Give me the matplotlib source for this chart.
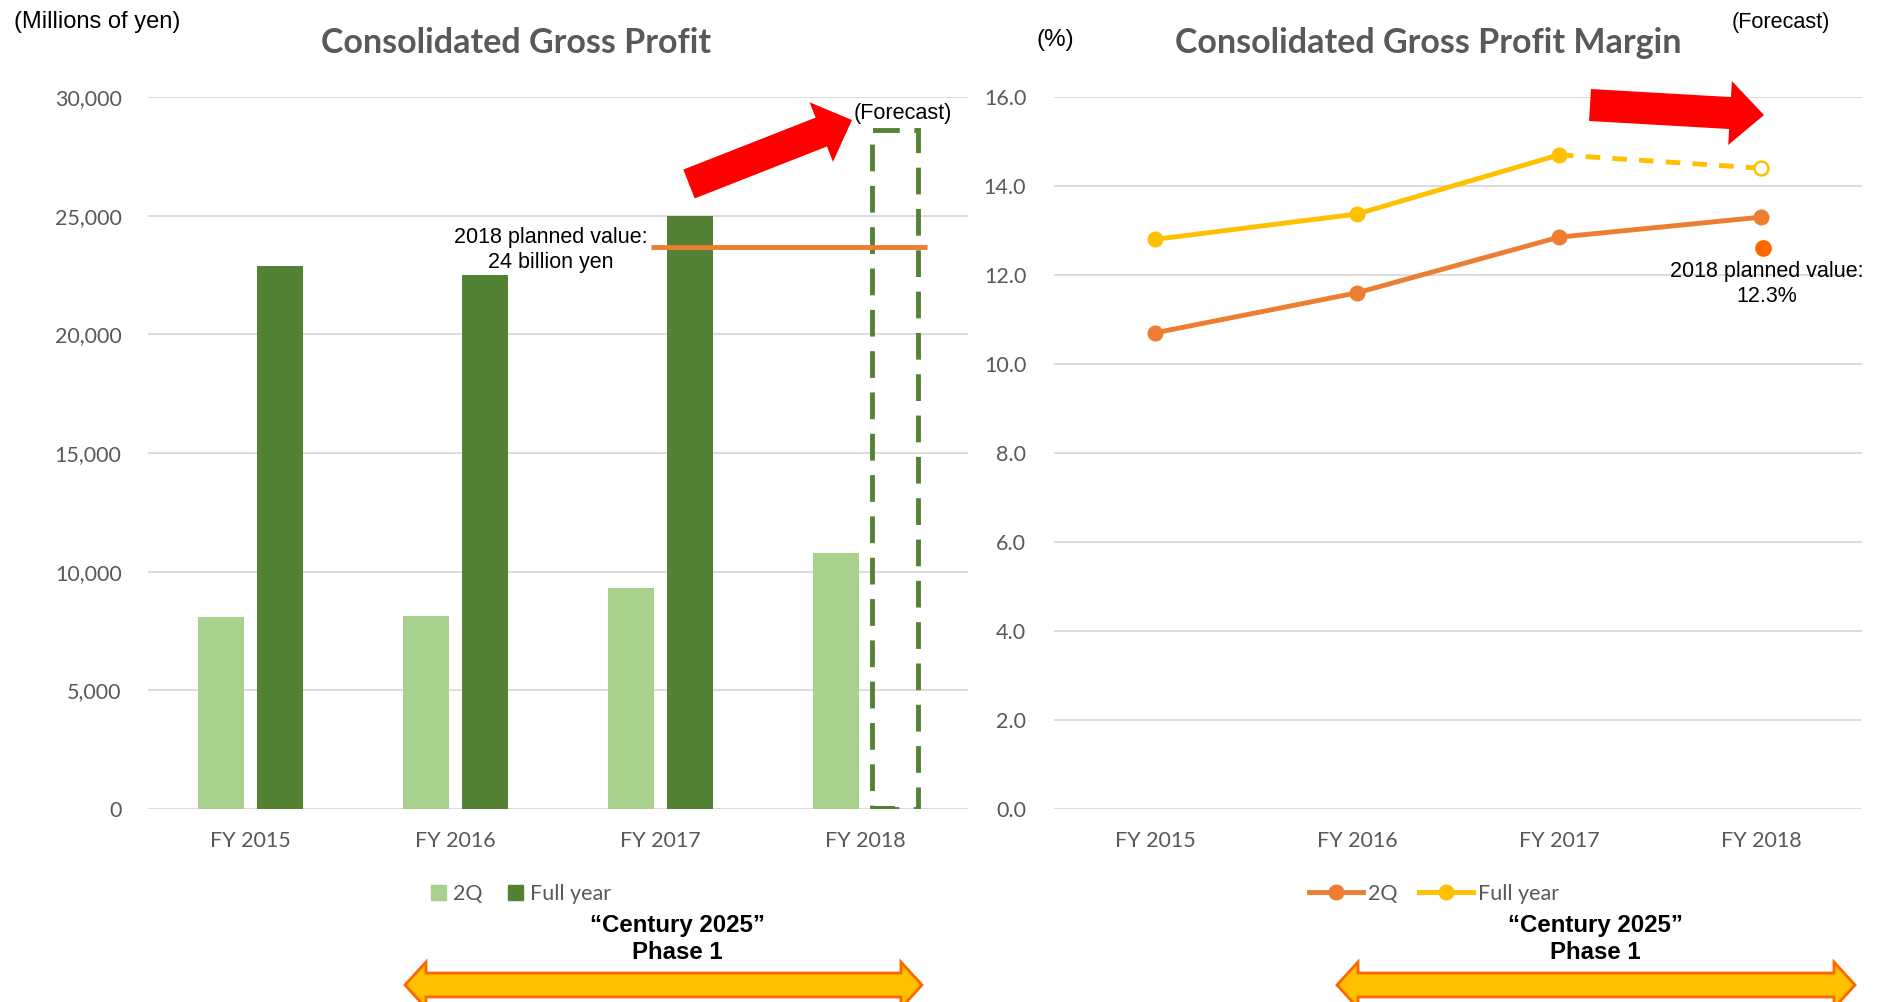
import numpy as np
import matplotlib
matplotlib.use("Agg")
import matplotlib.pyplot as plt
from matplotlib.patches import FancyArrow, Polygon, Rectangle
from matplotlib.lines import Line2D

# data
years = ["FY 2015", "FY 2016", "FY 2017", "FY 2018"]
profit_2q = [8100, 8150, 9300, 10780]
profit_full = [22900, 22500, 25000, 120]
profit_full_forecast = 28600
profit_planned = 23700

margin_2q = [10.7, 11.6, 12.85, 13.3]
margin_full = [12.8, 13.37, 14.7, 14.4]   # last one is the forecast
margin_planned = 12.6

yticks_left = [0, 5000, 10000, 15000, 20000, 25000, 30000]
yticks_right = [0, 2, 4, 6, 8, 10, 12, 14, 16]

GRAY_TXT = "#595959"
GRID = "#D9D9D9"
LIGHT_G = "#A9D18E"
DARK_G = "#548235"
ORANGE = "#ED7D31"
YELLOW = "#FFC000"
UI_FONT = ["Lato", "DejaVu Sans"]
ARIAL = ["Liberation Sans", "DejaVu Sans"]

W, H = 1878, 1002
fig = plt.figure(figsize=(W / 100, H / 100), dpi=100)


def px_rect(x0, y0, x1, y1):
    return [x0 / W, 1 - y1 / H, (x1 - x0) / W, (y1 - y0) / H]


def style_axes(ax, ticks, fmt, pad_y):
    for s in ax.spines.values():
        s.set_visible(False)
    ax.set_yticks(ticks)
    ax.set_yticklabels([fmt(t) for t in ticks], fontfamily=UI_FONT, fontsize=15.5, color=GRAY_TXT)
    ax.set_xticks(range(len(years)))
    ax.set_xticklabels(years, fontfamily=UI_FONT, fontsize=15.5, color=GRAY_TXT)
    ax.tick_params(axis="y", length=0, pad=pad_y)
    ax.tick_params(axis="x", length=0, pad=16)
    ax.grid(axis="y", color=GRID, lw=1.3)
    ax.set_axisbelow(True)
    ax.set_xlim(-0.5, 3.5)


# ---- left: gross profit bars
ax1 = fig.add_axes(px_rect(148, 97, 968, 809))
x = np.arange(len(years))
bw = 0.222
ax1.bar(x - 0.143, profit_2q, width=bw, color=LIGHT_G, zorder=2)
ax1.bar(x[:3] + 0.143, profit_full[:3], width=bw, color=DARK_G, zorder=2)
ax1.bar(x[3] + 0.143 - bw / 4, profit_full[3], width=bw / 2, color=DARK_G, zorder=2)
ax1.add_patch(Rectangle((x[3] + 0.143 - bw / 2, 0), bw, profit_full_forecast,
                        fill=False, edgecolor=DARK_G, lw=3.5, ls=(0, (5.5, 3)), zorder=3))
ax1.hlines(profit_planned, 1.953, 3.298, color=ORANGE, lw=3.5, zorder=4)
ax1.set_ylim(0, 30000)
style_axes(ax1, yticks_left, lambda v: f"{v:,}", 19)

h1 = [Rectangle((0, 0), 1, 1, color=LIGHT_G), Rectangle((0, 0), 1, 1, color=DARK_G)]
fig.legend(h1, ["2Q", "Full year"], loc="center", bbox_to_anchor=(521 / W, 1 - 894 / H),
           ncol=2, frameon=False, handlelength=0.7, handleheight=0.7, handletextpad=0.3,
           columnspacing=1.2, prop={"family": UI_FONT, "size": 15.5}, labelcolor=GRAY_TXT)

# ---- right: gross profit margin lines
ax2 = fig.add_axes(px_rect(1054, 97, 1862, 809))
ax2.plot(x, margin_2q, color=ORANGE, lw=3.5, marker="o", ms=10.5, zorder=3)
ax2.plot(x[:3], margin_full[:3], color=YELLOW, lw=3.5, marker="o", ms=10.5, zorder=3)
ax2.plot(x[2:], margin_full[2:], color=YELLOW, lw=3.5, ls=(0, (3, 2.5)), zorder=3)
ax2.plot(x[3], margin_full[3], marker="o", ms=10, mfc="white", mec=YELLOW, mew=1.8, zorder=4)
ax2.plot(x[3] + 0.01, margin_planned, marker="o", ms=11, color="#FF6600", ls="none", zorder=4)
ax2.set_ylim(0, 16)
style_axes(ax2, yticks_right, lambda v: f"{v:.1f}", 20)

h2 = [Line2D([], [], color=ORANGE, lw=3.5, marker="o", ms=10.5),
      Line2D([], [], color=YELLOW, lw=3.5, marker="o", ms=10.5)]
fig.legend(h2, ["2Q", "Full year"], loc="center", bbox_to_anchor=(1434 / W, 1 - 894 / H),
           ncol=2, frameon=False, handlelength=2.5, handletextpad=0.25, columnspacing=1.0,
           prop={"family": UI_FONT, "size": 15.5}, labelcolor=GRAY_TXT)

# ---- overlay in pixel units for the annotations
deco = fig.add_axes([0, 0, 1, 1], zorder=10)
deco.set_xlim(0, W)
deco.set_ylim(H, 0)
deco.axis("off")
deco.patch.set_alpha(0)

deco.text(516, 43, "Consolidated Gross Profit", ha="center", va="center",
          fontfamily=UI_FONT, fontweight="bold", fontsize=24.5, color=GRAY_TXT)
deco.text(1428, 43, "Consolidated Gross Profit Margin", ha="center", va="center",
          fontfamily=UI_FONT, fontweight="bold", fontsize=24.5, color=GRAY_TXT)
deco.text(14, 22, "(Millions of yen)", ha="left", va="center", fontfamily=ARIAL, fontsize=17)
deco.text(1055, 40, "(%)", ha="center", va="center", fontfamily=ARIAL, fontsize=17.5)
deco.text(854, 113, "(Forecast)", ha="left", va="center", fontfamily=ARIAL, fontsize=15.6)
deco.text(1781, 22, "(Forecast)", ha="center", va="center", fontfamily=ARIAL, fontsize=15.6)
deco.text(551, 250, "2018 planned value:\n24 billion yen", ha="center", va="center",
          fontfamily=ARIAL, fontsize=15.5, linespacing=1.3)
deco.text(1767, 284, "2018 planned value:\n12.3%", ha="center", va="center",
          fontfamily=ARIAL, fontsize=15.5, linespacing=1.3)

# red trend arrows
deco.add_patch(FancyArrow(689, 184, 163, -64, width=31, head_width=64, head_length=33,
                          length_includes_head=True, color="#FF0000", lw=0))
deco.add_patch(FancyArrow(1590, 105, 174, 10, width=32, head_width=64, head_length=34,
                          length_includes_head=True, color="#FF0000", lw=0))

# "Century 2025" phase arrows
for cx, x0, x1 in [(677, 405, 922), (1595, 1337, 1855)]:
    deco.text(cx, 939, "\u201cCentury 2025\u201d\nPhase 1", ha="center", va="center",
              fontfamily=ARIAL, fontweight="bold", fontsize=17.3, linespacing=1.25)
    yc, sh, hh, hl = 985, 12, 23, 21
    pts = [(x0, yc), (x0 + hl, yc - hh), (x0 + hl, yc - sh), (x1 - hl, yc - sh),
           (x1 - hl, yc - hh), (x1, yc), (x1 - hl, yc + hh), (x1 - hl, yc + sh),
           (x0 + hl, yc + sh), (x0 + hl, yc + hh)]
    deco.add_patch(Polygon(pts, closed=True, facecolor=YELLOW, edgecolor="#FF6600", lw=2))

fig.savefig("out.png", dpi=100)
